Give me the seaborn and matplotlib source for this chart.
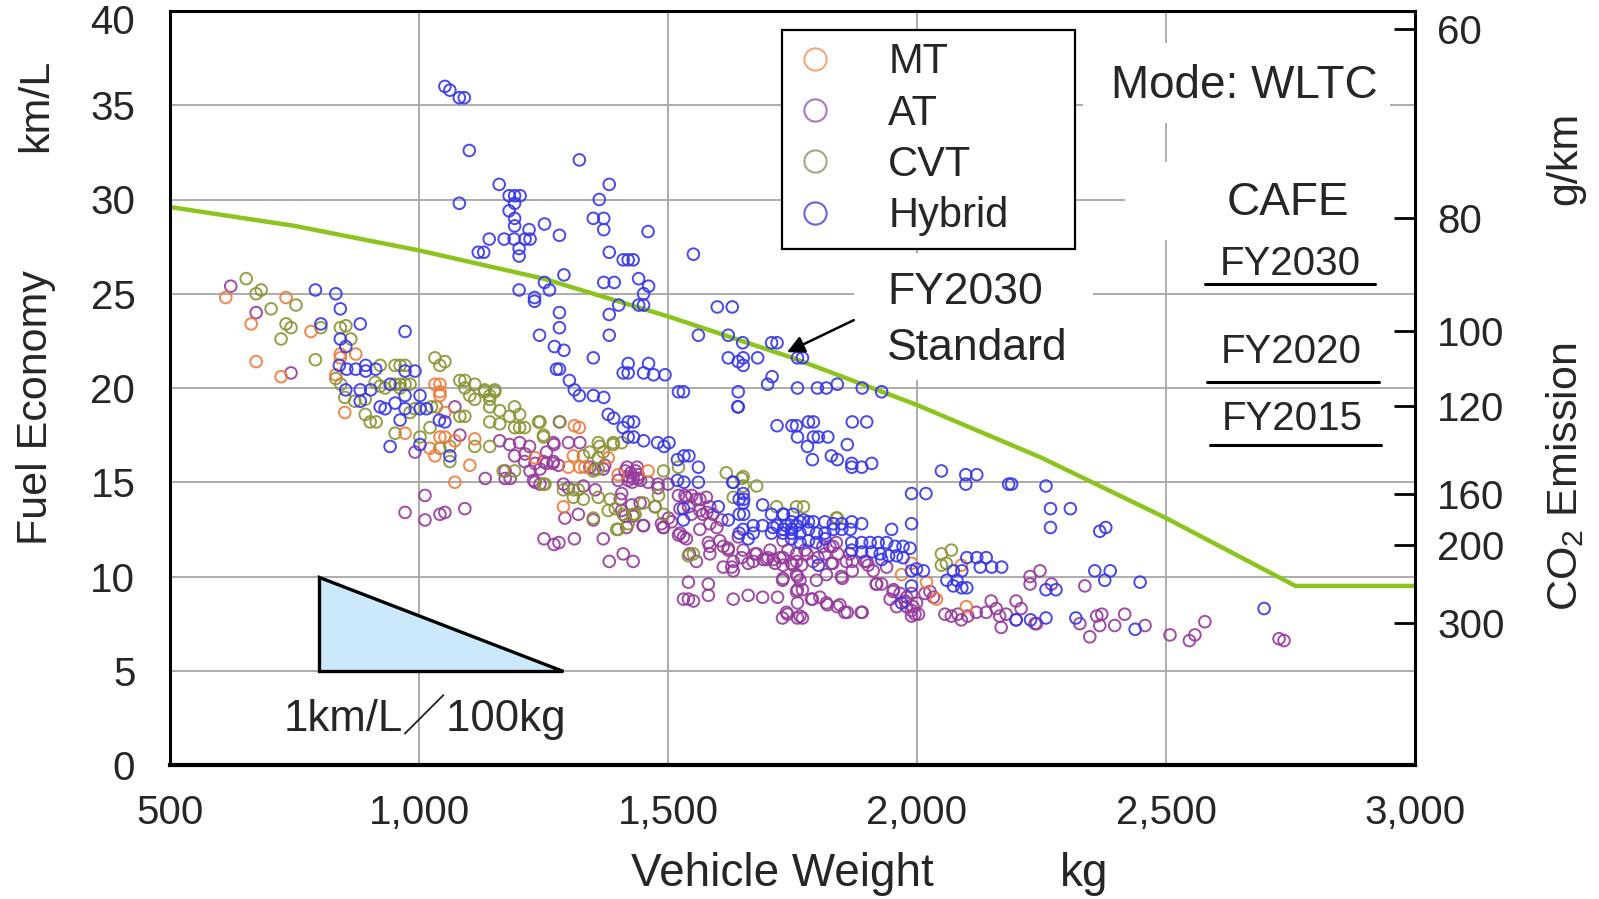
import numpy as np
import pandas as pd
import matplotlib
matplotlib.use("Agg")
import matplotlib.pyplot as plt
from matplotlib.lines import Line2D
from matplotlib.patches import Polygon, Rectangle
from matplotlib.ticker import StrMethodFormatter
from matplotlib.transforms import ScaledTranslation
import seaborn as sns

# (vehicle weight kg, fuel economy km/L)
mt_points = [
    (612, 24.8), (733, 24.8), (663, 23.4), (783, 23.0), (673, 21.4), (723, 20.6),
    (842, 21.8), (842, 21.6), (873, 21.8), (833, 20.7), (851, 18.7), (972, 17.6),
    (1032, 20.2), (1042, 20.2), (1042, 19.8), (1042, 19.6), (1052, 18.7), (1022, 16.8),
    (1032, 16.4), (1042, 17.4), (1052, 17.4), (1072, 17.2), (1102, 15.9), (1072, 15.0),
    (1112, 17.3), (1233, 16.3), (1312, 18.0), (1322, 17.9), (1300, 15.8), (1323, 15.8),
    (1333, 15.8), (1380, 16.3), (1400, 15.4), (1460, 15.6), (1310, 16.4), (1290, 13.7),
    (1969, 10.1), (1989, 10.7), (2019, 9.7), (2039, 8.8), (2089, 10.6), (2099, 8.4),
]

at_points = [
    (622, 25.4), (673, 24.0), (743, 20.8), (992, 16.6), (1012, 14.3), (1072, 19.0),
    (1082, 17.5), (972, 13.4), (1012, 13.0), (1042, 13.3), (1052, 13.4), (1092, 13.6),
    (1133, 15.2), (1162, 17.2), (1182, 17.0), (1202, 17.1), (1222, 16.9), (1212, 16.1),
    (1192, 16.4), (1233, 16.0), (1243, 15.7), (1256, 16.0), (1269, 16.0), (1256, 16.6),
    (1271, 17.0), (1173, 15.6), (1183, 15.2), (1173, 15.2), (1230, 15.1), (1243, 14.9),
    (1251, 12.0), (1271, 11.7), (1281, 11.8), (1312, 12.0), (1370, 12.0), (1382, 10.8),
    (1410, 11.2), (1430, 10.8), (1213, 16.5), (1223, 15.6), (1233, 15.0), (1282, 18.2),
    (1270, 17.1), (1300, 17.1), (1323, 17.1), (1250, 16.1), (1270, 16.1), (1280, 15.9),
    (1343, 15.8), (1353, 15.7), (1370, 15.7), (1373, 15.9),
    (1414, 15.6), (1420, 15.3), (1425, 15.5), (1430, 15.2), (1435, 15.6), (1440, 15.4),
    (1445, 15.1), (1418, 15.8), (1428, 15.0), (1438, 15.8),
    (1400, 15.1), (1420, 15.1), (1440, 15.2), (1460, 15.0), (1480, 14.9), (1500, 14.9),
    (1480, 14.7), (1404, 14.1), (1290, 14.9), (1300, 14.7), (1330, 14.8), (1354, 14.6),
    (1407, 14.4), (1427, 13.8), (1444, 13.9), (1451, 12.7), (1491, 12.6), (1474, 13.7),
    (1537, 14.2), (1557, 14.1), (1577, 14.2), (1584, 13.7), (1570, 13.3), (1590, 13.3),
    (1547, 13.3), (1407, 13.5), (1414, 13.2), (1430, 13.2), (1417, 12.6), (1320, 13.3),
    (1293, 13.1), (1350, 13.0),
    (1524, 12.3), (1537, 12.0), (1543, 11.2), (1557, 10.8), (1584, 11.6), (1604, 11.9),
    (1621, 11.5), (1628, 10.5), (1648, 11.0), (1661, 10.7), (1678, 11.2), (1701, 11.0),
    (1715, 10.7), (1731, 11.0), (1748, 10.7),
    (1541, 9.7), (1581, 9.6), (1581, 9.0), (1531, 8.8), (1541, 8.8), (1551, 8.7),
    (1631, 8.8), (1661, 9.0), (1690, 8.9), (1720, 8.9), (1730, 9.8), (1760, 10.0),
    (1760, 9.3), (1770, 9.3), (1790, 8.8), (1760, 8.6), (1730, 7.8), (1740, 8.0),
    (1760, 7.8), (1770, 7.8), (1820, 8.5), (1840, 8.4), (1860, 8.1), (1890, 8.1),
    (1850, 9.9), (1870, 10.3), (1870, 10.8), (1899, 10.8), (1912, 10.3), (1919, 9.6),
    (1929, 9.6), (1611, 10.5), (1631, 10.3), (1631, 10.8), (1671, 10.8), (1698, 10.9),
    (1725, 11.0), (1758, 10.8), (1791, 10.8), (1801, 11.0), (1831, 10.7), (1865, 11.2),
    (1831, 11.6),
    (1953, 9.3), (1946, 8.8), (1966, 9.1), (1979, 8.9), (1989, 9.1), (1999, 8.6),
    (1989, 8.2), (1979, 8.4), (1996, 8.0), (1989, 7.9), (2016, 9.1), (2026, 9.2),
    (2033, 8.9), (2056, 8.0), (2069, 7.9), (2082, 8.0), (2089, 7.7), (2102, 7.9),
    (2119, 8.1), (2139, 8.1), (2149, 8.7), (2159, 8.3), (2166, 7.9), (2169, 7.3),
    (2179, 8.0), (2199, 8.7), (2209, 8.3), (2199, 7.7), (2227, 10.0), (2227, 9.6),
    (2247, 10.3), (2237, 7.5), (2270, 9.6), (2337, 9.5),
    (2240, 7.5), (2327, 7.5), (2361, 7.9), (2371, 8.0), (2367, 7.4), (2397, 7.4),
    (2417, 8.0), (2458, 7.4), (2347, 6.8),
    (2508, 6.9), (2547, 6.6), (2558, 6.9), (2578, 7.6), (2727, 6.7), (2737, 6.6),
    (1731, 11.9), (1741, 11.4), (1758, 11.2), (1775, 11.4), (1811, 11.6), (1825, 11.6),
    (1838, 11.8), (1841, 11.2), (1828, 10.7), (1858, 10.8), (1895, 10.8), (1902, 10.6),
    (1731, 10.6), (1751, 10.6), (1768, 10.6), (1731, 9.9), (1758, 10.1), (1765, 9.8),
    (1798, 9.8), (1818, 10.1), (1848, 10.0), (1758, 9.2), (1788, 8.8), (1818, 8.6),
    (1845, 8.5), (1855, 8.1), (1888, 8.1), (1918, 9.6), (1939, 10.5), (1952, 9.2),
    (1976, 8.7), (1992, 8.4), (1959, 8.4), (2003, 8.0), (1738, 8.1), (1765, 7.9),
    (1805, 8.9),
    (1450, 12.7), (1490, 12.6), (1507, 12.9), (1521, 12.2), (1531, 12.1), (1564, 12.5),
    (1581, 11.8), (1584, 11.2), (1611, 11.6), (1621, 11.4), (1641, 12.1), (1651, 11.4),
    (1675, 11.2), (1691, 10.9), (1705, 11.4), (1711, 10.9), (1779, 11.2), (1815, 11.2),
    (1521, 14.3), (1534, 14.3), (1548, 14.3), (1564, 14.1), (1524, 13.6), (1541, 13.7),
    (1564, 13.5), (1578, 13.4), (1584, 12.8), (1598, 12.6), (1608, 13.0), (1501, 13.1),
    (1487, 12.8),
]

cvt_points = [
    (653, 25.8), (673, 25.0), (683, 25.2), (703, 24.2), (753, 24.4), (733, 23.4),
    (743, 23.2), (723, 22.6), (803, 23.2), (792, 21.5), (842, 23.2), (853, 23.3),
    (863, 22.6), (922, 21.2), (952, 21.2), (962, 21.2), (972, 21.2), (1032, 21.6),
    (1042, 21.2), (1052, 21.4), (1082, 20.4), (1092, 20.4), (1112, 20.2), (1092, 20.0),
    (1102, 19.6), (1132, 19.9), (1152, 19.9), (1142, 19.6), (833, 20.5), (843, 20.2),
    (912, 20.3), (922, 20.1), (932, 20.0), (952, 20.2), (962, 20.2), (972, 20.2),
    (982, 20.2), (962, 20.0), (851, 19.5), (871, 19.3), (892, 19.4), (892, 18.6),
    (902, 18.2), (914, 18.2), (952, 17.6), (992, 18.9), (982, 18.7), (1025, 19.0),
    (1035, 19.0), (1002, 17.4), (1022, 17.9), (1082, 18.5), (1092, 18.5), (1042, 16.8),
    (1062, 16.9), (1062, 16.1), (1112, 16.9), (1142, 16.9), (1112, 19.4), (1132, 19.8),
    (1142, 19.4), (1152, 19.8), (1142, 19.0), (1162, 18.8), (1142, 18.2), (1162, 18.1),
    (1182, 18.5), (1192, 19.0), (1202, 18.6), (1192, 17.9), (1202, 17.9), (1212, 17.9),
    (1240, 18.2), (1250, 17.4), (1169, 15.6), (1192, 15.6), (1243, 18.2), (1283, 18.2),
    (1343, 16.6), (1363, 16.9), (1390, 17.0), (1350, 15.6), (1360, 15.7), (1290, 14.6),
    (1310, 14.6), (1330, 14.1), (1310, 14.2), (1380, 13.5), (1410, 13.3), (1420, 12.8),
    (1400, 12.5), (1250, 17.5), (1253, 14.9), (1360, 17.1), (1390, 17.1), (1407, 17.1),
    (1330, 16.4), (1360, 16.3), (1370, 16.6), (1250, 14.9), (1320, 14.6), (1360, 14.2),
    (1384, 14.1), (1394, 13.6), (1434, 13.3), (1451, 13.9), (1474, 13.7), (1491, 13.3),
    (1491, 15.6), (1521, 15.8), (1350, 13.1), (1397, 12.5), (1617, 15.5), (1648, 15.2),
    (1678, 14.8), (1718, 13.7), (1758, 13.7), (1651, 15.3), (1631, 14.2), (1651, 14.8),
    (1772, 13.7), (1840, 13.1), (1551, 11.2), (1541, 11.1), (1481, 14.3), (1430, 13.3),
    (2049, 11.2), (2069, 11.4), (2059, 10.7), (2049, 10.6), (1838, 13.1),
]

hybrid_points = [
    (1052, 36.0), (1062, 35.8), (1081, 35.4), (1091, 35.4), (1101, 32.6), (1322, 32.1),
    (1161, 30.8), (1382, 30.8), (1181, 30.2), (1192, 30.2), (1203, 30.2), (1192, 29.8),
    (1081, 29.8), (1362, 30.0), (1181, 29.4), (1192, 29.0), (1192, 28.6), (1221, 28.4),
    (1252, 28.7), (1282, 28.1), (1350, 29.0), (1371, 29.0), (1371, 28.4), (1460, 28.3),
    (1141, 27.9), (1119, 27.2), (1130, 27.2), (1171, 27.9), (1191, 27.9), (1213, 27.9),
    (1223, 27.9), (1201, 27.4), (1201, 27.0), (1382, 27.2), (1410, 26.8), (1420, 26.8),
    (1430, 26.8), (1291, 26.0), (1252, 25.6), (1262, 25.2), (1201, 25.2), (1232, 24.8),
    (1232, 24.6), (1371, 25.6), (1392, 25.6), (1441, 25.8), (1461, 25.4), (1451, 25.0),
    (1401, 24.4), (1441, 24.4), (1451, 24.4), (1382, 23.9), (1282, 24.0), (1282, 23.2),
    (1242, 22.8), (1382, 22.8), (1272, 22.2), (1291, 22.0), (1350, 21.6), (1282, 21.0),
    (1302, 20.4), (1312, 19.9), (1322, 19.6), (1420, 21.3), (1410, 20.8), (1420, 20.8),
    (1461, 21.3), (1451, 20.8), (1471, 20.7), (1350, 19.6), (1371, 19.5), (1276, 21.0),
    (1551, 27.1), (1599, 24.3), (1629, 24.3), (1561, 22.8), (1621, 22.8), (1650, 22.4),
    (1708, 22.4), (1719, 22.4), (1621, 21.6), (1641, 21.4), (1651, 21.6), (1651, 21.2),
    (1680, 21.6), (1760, 21.6), (1770, 21.6), (1709, 20.6), (1700, 20.2), (1641, 19.8),
    (1760, 20.0), (1800, 20.0), (1818, 20.0), (1840, 20.2), (1890, 20.0), (1929, 19.8),
    (1521, 19.8), (1531, 19.8), (1640, 19.0), (1494, 20.7),
    (792, 25.2), (833, 25.0), (842, 24.2), (803, 23.4), (882, 23.4), (972, 23.0),
    (842, 22.6), (853, 22.2), (840, 21.2), (855, 21.0), (873, 21.0), (893, 21.2),
    (893, 20.9), (913, 21.0), (972, 20.9), (992, 20.9), (942, 20.2), (853, 19.9),
    (882, 19.9), (903, 19.9), (882, 19.3), (922, 19.0), (932, 18.9), (952, 19.2),
    (972, 19.6), (1002, 19.6), (972, 18.9), (1002, 18.9), (1015, 18.9), (962, 18.3),
    (1041, 18.3), (1052, 18.2), (942, 16.9), (1002, 17.0), (1062, 16.4),
    (1380, 18.6), (1391, 18.4), (1410, 17.9), (1420, 18.2), (1431, 18.2), (1420, 17.4),
    (1431, 17.4), (1451, 17.2), (1479, 17.1), (1492, 16.9), (1502, 17.1), (1519, 16.2),
    (1532, 16.4), (1542, 16.4), (1561, 15.8), (1641, 19.0), (1719, 18.0), (1749, 18.0),
    (1758, 18.0), (1519, 15.1), (1532, 15.0), (1561, 15.0), (1630, 15.0), (1531, 13.6),
    (1531, 13.0), (1601, 13.7), (1621, 13.0), (1643, 14.1), (1652, 14.1), (1643, 13.3),
    (1652, 13.3), (1643, 12.3), (1661, 12.0), (1671, 12.7), (1690, 12.7), (1708, 13.3),
    (1719, 12.7), (1731, 13.3), (1737, 12.7), (1751, 13.3), (1758, 12.7), (1708, 12.3),
    (1731, 12.3), (1748, 12.3), (1690, 13.8), (1631, 15.0), (1651, 14.4), (1651, 13.9),
    (1651, 12.5), (1671, 12.3), (1711, 12.6), (1772, 13.0),
    (1860, 17.0), (1780, 16.9), (1790, 16.2), (1828, 16.4), (1840, 16.2), (1869, 16.0),
    (1889, 15.8), (1909, 16.0), (1869, 15.8), (1782, 18.2), (1792, 18.2), (1760, 17.4),
    (1792, 17.4), (1802, 17.4), (1821, 17.4), (1870, 18.2), (1899, 18.2),
    (2049, 15.6), (2098, 15.4), (2120, 15.4), (2098, 14.9), (2184, 14.9), (1989, 14.4),
    (2018, 14.4), (1989, 12.8), (1949, 12.5),
    (1732, 13.3), (1748, 12.9), (1765, 12.9), (1782, 12.9), (1792, 12.9), (1815, 12.9),
    (1832, 12.8), (1849, 12.8), (1869, 12.9), (1889, 12.8), (1732, 12.5), (1748, 12.5),
    (1765, 12.3), (1782, 12.5), (1798, 12.3), (1815, 12.3), (1832, 12.5), (1849, 12.5),
    (1866, 12.5), (1748, 12.0), (1765, 11.8), (1782, 11.9), (1798, 11.8), (1815, 12.0),
    (1869, 11.8), (1889, 11.8), (1906, 11.8), (1922, 11.8), (1939, 11.8), (1956, 11.6),
    (1972, 11.6), (1986, 11.5), (1869, 11.4), (1889, 11.3), (1909, 11.3), (1926, 11.2),
    (1943, 11.1), (1959, 11.1), (1972, 11.0), (1929, 10.9), (1802, 10.6), (1989, 10.3),
    (1999, 10.4), (2013, 10.3), (1989, 9.5), (1969, 8.6),
    (2100, 11.0), (2120, 11.0), (2139, 11.0), (2150, 10.5), (2170, 10.5), (2073, 10.3),
    (2090, 10.3), (2073, 9.5), (2090, 9.4), (2100, 9.4), (2060, 9.8), (2080, 9.8),
    (2127, 10.5),
    (2268, 13.6), (2308, 13.6), (2268, 12.6), (2367, 12.4), (2379, 12.6), (2190, 14.9),
    (2259, 14.8), (2357, 10.3), (2388, 10.3), (2377, 9.8), (2448, 9.7), (2259, 9.3),
    (2279, 9.3), (2199, 7.7), (2228, 7.7), (2259, 7.8), (2319, 7.8), (2438, 7.2),
    (2697, 8.3),
]

# FY2030 CAFE standard curve
cafe_weight = [500, 750, 1000, 1250, 1500, 1750, 2000, 2250, 2500, 2760, 3000]
cafe_economy = [29.6, 28.6, 27.3, 25.8, 23.8, 21.6, 19.1, 16.3, 13.1, 9.5, 9.5]

# right axis: CO2 emission tick labels (g/km) and where they sit on the km/L scale
co2_ticks = [60, 80, 100, 120, 160, 200, 300]
co2_tick_pos = [39.05, 29.0, 23.0, 19.05, 14.4, 11.65, 7.55]

# slope triangle (1 km/L per 100 kg)
tri_weight = [800, 800, 1290]
tri_economy = [10, 5, 5]

x_ticks = [500, 1000, 1500, 2000, 2500, 3000]
y_ticks = [0, 5, 10, 15, 20, 25, 30, 35, 40]

type_order = ["MT", "AT", "CVT", "Hybrid"]
draw_order = ["AT", "CVT", "MT", "Hybrid"]
point_sets = {"MT": mt_points, "AT": at_points, "CVT": cvt_points, "Hybrid": hybrid_points}
palette = {"MT": "#f07a38", "AT": "#963a9c", "CVT": "#8a9434", "Hybrid": "#3636e6"}
legend_colors = {"MT": "#f2a878", "AT": "#a878bc", "CVT": "#a0a888", "Hybrid": "#6464e0"}

rows = []
for t in draw_order:
    for w, e in point_sets[t]:
        rows.append([t, w, e])
df = pd.DataFrame(rows, columns=["Type", "Weight", "Economy"])

sns.set_style("whitegrid")
plt.rcParams["font.family"] = ["Liberation Sans", "Noto Sans CJK JP", "DejaVu Sans"]
plt.rcParams["mathtext.fontset"] = "custom"
plt.rcParams["mathtext.rm"] = "Liberation Sans"
plt.rcParams["mathtext.it"] = "Liberation Sans:italic"
plt.rcParams["mathtext.bf"] = "Liberation Sans:bold"

fig = plt.figure(figsize=(15.99, 8.99), dpi=100)
ax = fig.add_axes([170 / 1599, 1 - 765 / 899, 1245 / 1599, 754 / 899])

ax.set_xlim(500, 3000)
ax.set_ylim(0, 40)
ax.set_xticks(x_ticks)
ax.set_yticks(y_ticks)
ax.xaxis.set_major_formatter(StrMethodFormatter("{x:,.0f}"))
ax.tick_params(axis="x", length=0, pad=21, labelsize=29)
ax.tick_params(axis="y", length=0, pad=25, labelsize=29)
ax.grid(True, color="#a6a6a6", linewidth=1.3)
ax.set_axisbelow(True)
for sp in ax.spines.values():
    sp.set_color("black")
    sp.set_linewidth(2.2)
ax.spines["bottom"].set_linewidth(3)

# white boxes behind the annotation texts (they hide the grid in the original)
for x0, y0, w, h in [(0.733, 0.851, 0.247, 0.107), (0.767, 0.696, 0.233, 0.104),
                     (0.549, 0.511, 0.192, 0.168)]:
    ax.add_patch(Rectangle((x0, y0), w, h, transform=ax.transAxes,
                           facecolor="white", edgecolor="none", zorder=1))

sns.lineplot(x=cafe_weight, y=cafe_economy, color="#8cc41e", linewidth=3.2,
             ax=ax, zorder=2, sort=False)

ax.add_patch(Polygon(list(zip(tri_weight, tri_economy)), closed=True,
                     facecolor="#cce9fb", edgecolor="black", linewidth=2.4, zorder=2))

sns.scatterplot(data=df, x="Weight", y="Economy", hue="Type", hue_order=type_order,
                palette=palette, s=70, linewidth=1.4, alpha=0.9, legend=False,
                ax=ax, zorder=3)
pts = ax.collections[-1]
pts.set_edgecolors(pts.get_facecolors())
pts.set_facecolors("none")
ax.set_xlabel("")
ax.set_ylabel("")

# keep the top "40" label inside the figure, as in the original
top_label = ax.get_yticklabels()[-1]
top_label.set_transform(top_label.get_transform()
                        + ScaledTranslation(0, -0.08, fig.dpi_scale_trans))

handles = [Line2D([], [], marker="o", linestyle="", markerfacecolor="none",
                  markeredgecolor=legend_colors[t], markersize=16, markeredgewidth=1.5)
           for t in type_order]
leg = ax.legend(handles, type_order, loc="upper left",
                bbox_to_anchor=(0.4916, 0.692, 0.2354, 0.283), mode="expand",
                borderaxespad=0, fontsize=30, frameon=True, fancybox=False,
                framealpha=1, edgecolor="black", handlelength=1.0,
                handletextpad=1.25, labelspacing=0.27, borderpad=0.3)
leg.get_frame().set_linewidth(1.6)
leg.set_zorder(5)

# annotations
ax.text(2657, 36.0, "Mode: WLTC", fontsize=33, ha="center", va="center", zorder=4)
ax.text(2745, 29.8, "CAFE", fontsize=33, ha="center", va="center", zorder=4)
ax.text(2750, 26.6, "FY2030", fontsize=29, ha="center", va="center", zorder=4)
ax.text(2751, 21.9, "FY2020", fontsize=29, ha="center", va="center", zorder=4)
ax.text(2753, 18.35, "FY2015", fontsize=29, ha="center", va="center", zorder=4)
for xa, xb, yy in [(2578, 2920, 25.5), (2582, 2928, 20.3), (2588, 2932, 16.95)]:
    ax.plot([xa, xb], [yy, yy], color="black", linewidth=2.2, zorder=4)

ax.text(1940, 25.06, "FY2030", fontsize=32, ha="left", va="center", zorder=4)
ax.text(1940, 22.08, "Standard", fontsize=32, ha="left", va="center", zorder=4)
ax.annotate("", xy=(1739, 21.9), xytext=(1873, 23.6),
            arrowprops=dict(arrowstyle="-|>", color="black", lw=1.8,
                            mutation_scale=26, shrinkA=0, shrinkB=0), zorder=4)

ax.text(1012, 2.55, "1km/L\uff0f100kg", fontsize=31.5, ha="center", va="center",
        family=["Liberation Sans", "Noto Sans CJK JP"], zorder=4)

# right axis: CO2 emission
ax2 = ax.twinx()
ax2.set_ylim(0, 40)
ax2.set_yticks(co2_tick_pos)
ax2.set_yticklabels([str(v) for v in co2_ticks])
ax2.tick_params(axis="y", direction="in", length=15, width=2, pad=16,
                labelsize=29, color="black")
ax2.grid(False)
for sp in ax2.spines.values():
    sp.set_visible(False)

# axis titles
fig.text(36 / 1599, 1 - 408 / 899, "Fuel Economy", rotation=90, fontsize=31,
         ha="center", va="center")
fig.text(36 / 1599, 1 - 105 / 899, "km/L", rotation=90, fontsize=31,
         ha="center", va="center")
fig.text(782 / 1599, 1 - 874 / 899, "Vehicle Weight", fontsize=33,
         ha="center", va="center")
fig.text(1084 / 1599, 1 - 874 / 899, "kg", fontsize=33, ha="center", va="center")
fig.text(1565 / 1599, 1 - 477 / 899, "CO$_2$ Emission", rotation=90, fontsize=31,
         ha="center", va="center")
fig.text(1565 / 1599, 1 - 158 / 899, "g/km", rotation=90, fontsize=31,
         ha="center", va="center")

fig.savefig("out.png", dpi=100, facecolor="white")
